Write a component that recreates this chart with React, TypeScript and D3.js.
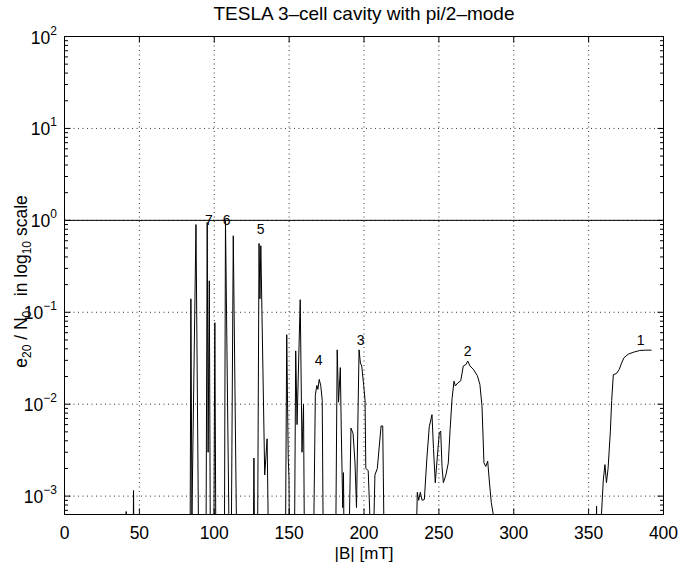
import React from 'react';
import * as d3 from 'd3';

const W = 680;
const H = 563;
const F = 1e-4; // below the axis floor (clipped)

const bField = [
  0, 40.6, 41.2, 41.8, 45.6, 46.1, 46.6,
  83.8, 84.4, 85.1, 87.8, 89.8,
  94.4, 95.3, 95.9, 96.7, 97.5,
  99.6, 100.4, 101.2,
  106.7, 107.5, 110.3,
  111.2, 112.7, 115.3,
  125.9, 126.5, 127.1,
  128.8, 129.9, 130.5, 131.1, 133.7, 135.3, 136.6,
  147.4, 148.4, 149.4, 149.9, 150.4,
  153.4, 154.4, 155.3, 157.4, 158.6, 159.6, 160.4,
  166.0, 167.5, 168.5, 169.2, 170.1, 171.1, 172.1, 173.0,
  180.9, 182.1, 183.0, 184.2, 184.8, 185.8, 186.3, 186.9,
  189.5, 191.3, 192.7, 194.0, 195.0, 196.7, 197.6, 198.5, 199.8, 200.7, 201.2, 202.8, 203.8, 204.3,
  205.6, 207.3, 208.9, 211.4, 212.5, 213.8,
  234.2, 235.6, 236.5, 237.6, 238.8, 240.3, 242.0, 243.6, 245.4, 246.4, 247.6, 248.9,
  250.3, 251.2, 252.1, 253.0, 254.7, 256.3, 257.5, 258.8, 260.1, 261.0, 262.6, 264.6,
  266.3, 268.0, 269.3, 270.8, 273.0, 275.7, 277.4, 278.8, 280.1, 281.3, 282.6, 283.7,
  285.0, 286.4, 287.0,
  354.6, 355.3, 356.0, 357.4, 358.5, 359.8, 360.9, 361.9, 363.0, 364.5, 365.4, 366.5,
  368.5, 370.5, 372.0, 373.6, 376.4, 379.8, 384.2, 388.0, 392.0,
];

const ratio = [
  F, F, 6.8e-4, F, F, 1.15e-3, F,
  F, 0.14, 6e-4, 0.9, F,
  F, 0.95, 3e-3, 0.22, F,
  F, 0.077, F,
  F, 0.98, F,
  F, 0.68, F,
  F, 0.0026, F,
  F, 0.56, 0.14, 0.53, 0.0017, 0.0042, F,
  F, 0.057, 0.0026, 0.0016, F,
  F, 0.038, 0.006, 0.137, 0.003, 0.01, F,
  F, 0.0125, 0.016, 0.0145, 0.0186, 0.016, 0.011, F,
  F, 0.039, 0.0105, 0.025, 0.0055, 7.5e-4, 0.0018, F,
  F, 0.0055, 0.0048, 0.0023, 7.5e-4, 0.039, 0.028, 0.026, 0.016, 0.011, 0.002, 0.0019, 7e-4, F,
  F, 0.0017, 0.002, 0.0058, 0.0058, F,
  F, 0.0011, 9e-4, 0.0011, 9e-4, 9.2e-4, 0.0026, 0.0057, 0.0077, 0.0033, 0.0014, 0.0026,
  0.0049, 0.0051, 0.0021, 0.0014, 0.0017, 0.0023, 0.0053, 0.0115, 0.0178, 0.0158, 0.017, 0.018,
  0.026, 0.027, 0.0294, 0.026, 0.024, 0.0204, 0.0164, 0.0095, 0.0023, 0.0021, 0.0024, 0.00146,
  8.5e-4, 6.2e-4, F,
  F, 7.8e-4, F, F, 6e-4, 0.0015, 0.0022, 0.0014, 0.002, 0.005, 0.011, 0.021,
  0.0215, 0.024, 0.028, 0.032, 0.035, 0.0367, 0.0384, 0.0387, 0.0387,
];

const xTicks = [0, 50, 100, 150, 200, 250, 300, 350, 400];
const yExponents = [-3, -2, -1, 0, 1, 2];
const yExpLabels = ['\u22123', '\u22122', '\u22121', '0', '1', '2'];

const peakNames = ['1', '2', '3', '4', '5', '6', '7'];
const peakB = [384.8, 269.2, 197.8, 169.7, 131.0, 108.3, 96.5];
const peakV = [0.05, 0.038, 0.05, 0.03, 0.81, 1.0, 1.0];

const titleText = 'TESLA 3\u2013cell cavity with pi/2\u2013mode';
const xLabelText = '|B| [mT]';

export default function App() {
  const left = 64.5, right = 663.5, top = 36.5, bottom = 514.5;
  const x = d3.scaleLinear().domain([0, 400]).range([left, right]);
  const y = d3.scaleLog().domain([Math.pow(10, -3.2), 100]).range([bottom, top]);

  const pts: [number, number][] = bField.map((b, i) => [b, ratio[i]]);
  const line = d3.line<[number, number]>()
    .x((d) => x(d[0]))
    .y((d) => y(Math.max(d[1], F)));

  const minor: number[] = [];
  for (let d = -4; d <= 1; d++) {
    for (let k = 2; k <= 9; k++) {
      const v = k * Math.pow(10, d);
      if (v >= Math.pow(10, -3.2) && v <= 100) minor.push(v);
    }
  }

  const font = '"Liberation Sans", Arial, Helvetica, sans-serif';
  const tickFs = 17.5;

  return (
    <svg width={W} height={H} style={{ position: 'absolute', left: 0, top: 0, background: '#fff' }}
      fontFamily={font}>
      <rect x={0} y={0} width={W} height={H} fill="#fff" />
      <defs>
        <clipPath id="plotClip">
          <rect x={left} y={top} width={right - left} height={bottom - top} />
        </clipPath>
      </defs>

      {/* grid */}
      {xTicks.slice(1, -1).map((t) => (
        <line key={'gx' + t} x1={x(t)} x2={x(t)} y1={top} y2={bottom}
          stroke="#000" strokeWidth={0.8} strokeDasharray="1,3.5" />
      ))}
      {yExponents.slice(0, -1).map((e) => (
        <line key={'gy' + e} x1={left} x2={right} y1={y(Math.pow(10, e))} y2={y(Math.pow(10, e))}
          stroke="#000" strokeWidth={0.8} strokeDasharray="1,3.5" />
      ))}

      {/* reference line at 1 */}
      <line x1={left} x2={right} y1={y(1)} y2={y(1)} stroke="#000" strokeWidth={1} />

      {/* curve */}
      <path d={line(pts) || ''} fill="none" stroke="#000" strokeWidth={1} clipPath="url(#plotClip)" />

      {/* axes box */}
      <rect x={left} y={top} width={right - left} height={bottom - top} fill="none" stroke="#000" strokeWidth={1} />

      {/* x ticks */}
      {xTicks.map((t) => (
        <g key={'xt' + t}>
          <line x1={x(t)} x2={x(t)} y1={bottom} y2={bottom - 6} stroke="#000" />
          <line x1={x(t)} x2={x(t)} y1={top} y2={top + 6} stroke="#000" />
          <text x={x(t)} y={bottom + 24.5} fontSize={tickFs} textAnchor="middle">{t}</text>
        </g>
      ))}

      {/* y ticks */}
      {yExponents.map((e, i) => {
        const yy = y(Math.pow(10, e));
        return (
          <g key={'yt' + e}>
            <line x1={left} x2={left + 6} y1={yy} y2={yy} stroke="#000" />
            <line x1={right} x2={right - 6} y1={yy} y2={yy} stroke="#000" />
            <text x={57} y={yy + 7} fontSize={tickFs} textAnchor="end">
              10<tspan dy={-9} fontSize={12}>{yExpLabels[i]}</tspan>
            </text>
          </g>
        );
      })}
      {minor.map((v, i) => (
        <g key={'mt' + i}>
          <line x1={left} x2={left + 3.5} y1={y(v)} y2={y(v)} stroke="#000" />
          <line x1={right} x2={right - 3.5} y1={y(v)} y2={y(v)} stroke="#000" />
        </g>
      ))}

      {/* peak labels */}
      {peakNames.map((n, i) => (
        <text key={'pl' + n} x={x(peakB[i])} y={y(peakV[i]) + 5} fontSize={14} textAnchor="middle">{n}</text>
      ))}

      {/* title */}
      <text x={(left + right) / 2} y={20} fontSize={19} textAnchor="middle">{titleText}</text>

      {/* x label */}
      <text x={(left + right) / 2} y={558.5} fontSize={17} textAnchor="middle">{xLabelText}</text>

      {/* y label */}
      <text transform={`translate(27, ${(top + bottom) / 2 + 6}) rotate(-90)`} fontSize={tickFs} textAnchor="middle">
        e<tspan fontSize={12} dy={4}>20</tspan><tspan dy={-4}> / N</tspan><tspan fontSize={12} dy={4}>0</tspan>
        <tspan dy={-4}>{'\u00a0\u00a0\u00a0in log'}</tspan><tspan fontSize={12} dy={4}>10</tspan><tspan dy={-4}> scale</tspan>
      </text>
    </svg>
  );
}
